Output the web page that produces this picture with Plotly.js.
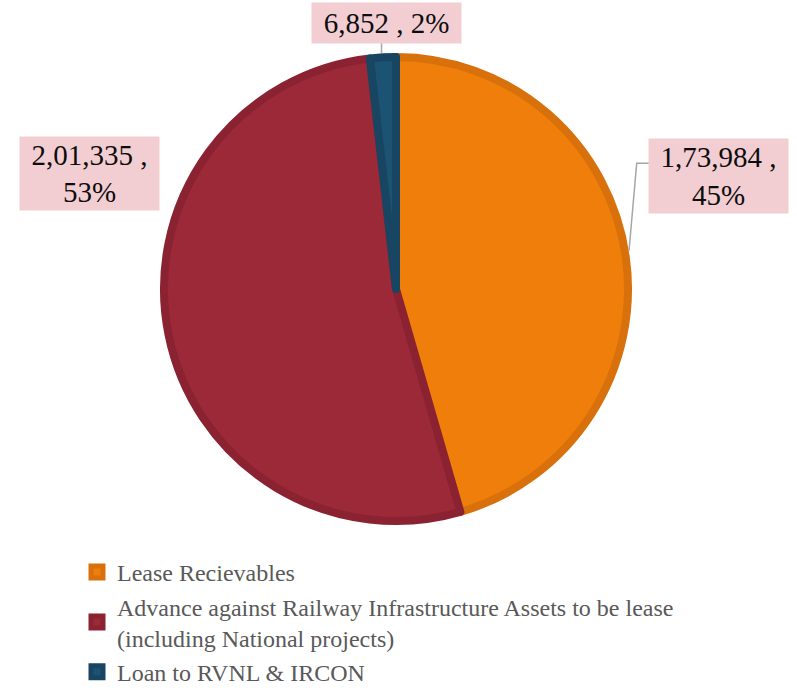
<!DOCTYPE html>
<html>
<head>
<meta charset="utf-8">
<script src="https://cdn.plot.ly/plotly-3.0.1.min.js"></script>
<style>html,body{margin:0;padding:0;background:#fff;}#chart{width:797px;height:688px;}</style>
</head>
<body>
<div id="chart"></div>
<script>
// ---- data ----
const categories = [
  "Lease Recievables",
  "Advance against Railway Infrastructure Assets to be lease<br>(including National projects)",
  "Loan to RVNL & IRCON"
];
const values = [173984, 201335, 6852];
const valueLabels = ["1,73,984", "2,01,335", "6,852"];
const pctLabels = ["45%", "53%", "2%"];

// ---- styles ----
const fillColors = ["#F07E0B", "#9C2937", "#1C5272"];
const edgeColors = ["#D8700C", "#8A2231", "#174562"];
const W = 797, H = 688;
const px = (x) => x / W;
const py = (y) => 1 - y / H;

const cx = 396, cy = 289, r = 232;

const trace = {
  type: "pie",
  labels: categories,
  values: values,
  sort: false,
  direction: "clockwise",
  rotation: 0,
  textinfo: "none",
  hoverinfo: "none",
  marker: { colors: fillColors, line: { color: edgeColors, width: 8 } },
  domain: { x: [px(cx - r), px(cx + r)], y: [py(cy + r), py(cy - r)] }
};

const labelBoxes = [
  { cx: 718.5, cy: 176, w: 139, h: 74, text: valueLabels[0] + " ,<br>" + pctLabels[0] },
  { cx: 89.5, cy: 173, w: 139, h: 73, text: valueLabels[1] + " ,<br>" + pctLabels[1] },
  { cx: 386.5, cy: 23, w: 149, h: 40, text: valueLabels[2] + " , " + pctLabels[2] }
];

const annotations = labelBoxes.map(b => ({
  xref: "paper", yref: "paper",
  x: px(b.cx), y: py(b.cy),
  xanchor: "center", yanchor: "middle",
  showarrow: false,
  text: b.text,
  width: b.w, height: b.h,
  borderpad: 0,
  bgcolor: "#F2CED3",
  align: "center", valign: "middle",
  font: { family: "Liberation Serif, serif", size: 29, color: "#0D0D0D" }
}));

const lineStyle = { color: "#A6A6A6", width: 1.5 };
const shapes = [
  { type: "path", xref: "paper", yref: "paper",
    path: `M${px(649)},${py(163.3)} L${px(636.7)},${py(163.3)} L${px(629)},${py(251)}`,
    line: lineStyle },
  { type: "line", xref: "paper", yref: "paper",
    x0: px(381.5), y0: py(43), x1: px(381.5), y1: py(53), line: lineStyle }
];

const layout = {
  width: W, height: H,
  margin: { l: 0, r: 0, t: 0, b: 0, autoexpand: false },
  paper_bgcolor: "#ffffff",
  plot_bgcolor: "#ffffff",
  showlegend: true,
  legend: {
    orientation: "v",
    x: px(77), y: py(550), xanchor: "left", yanchor: "top",
    font: { family: "Liberation Serif, serif", size: 24, color: "#595959" },
    bgcolor: "rgba(0,0,0,0)",
    tracegroupgap: 0
  },
  annotations: annotations,
  shapes: shapes
};

Plotly.newPlot("chart", [trace], layout, { displayModeBar: false, staticPlot: true });
</script>
</body>
</html>
